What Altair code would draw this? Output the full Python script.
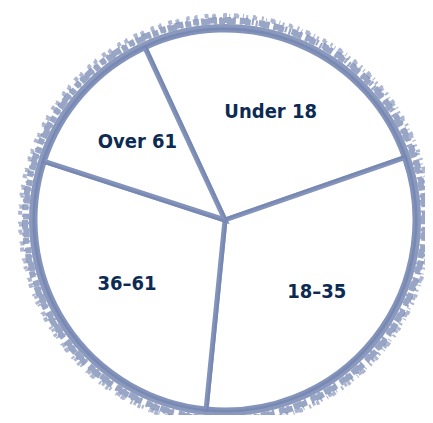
import altair as alt
import pandas as pd
import math

categories = ["Under 18", "18–35", "36–61", "Over 61"]
shares = [26.6, 31.9, 28.4, 13.1]
order_idx = [0, 1, 2, 3]

df = pd.DataFrame({"group": categories, "share": shares, "idx": order_idx})

start = math.radians(-24.9)
theta_scale = alt.Scale(range=[start, start + 2 * math.pi])
cx, cy = 217, 212
ring_color = "#7687b2"

base = alt.Chart(df).encode(
    theta=alt.Theta("share:Q", stack=True, scale=theta_scale),
    order=alt.Order("idx:Q"),
)

slices = base.mark_arc(
    fill="white", stroke=ring_color, strokeWidth=5, strokeOpacity=0.9, radius=190
).encode(x=alt.value(cx), y=alt.value(cy))

one = pd.DataFrame({"a": [0]})

ring = alt.Chart(one).mark_arc(
    theta=0, theta2=2 * math.pi, radius=196, radius2=188, color=ring_color, opacity=0.85
).encode(x=alt.value(cx), y=alt.value(cy))

ring_mid = alt.Chart(one).mark_arc(
    theta=0, theta2=2 * math.pi, radius=200, radius2=199, fill=None,
    stroke=ring_color, strokeWidth=6, strokeDash=[6, 2, 3, 4, 9, 3, 2, 5], opacity=0.75
).encode(x=alt.value(cx), y=alt.value(cy))

ring_outer = alt.Chart(one).mark_arc(
    theta=0, theta2=2 * math.pi, radius=205, radius2=204, fill=None,
    stroke=ring_color, strokeWidth=4, strokeDash=[2, 7, 4, 5, 1, 9, 3, 6], opacity=0.6
).encode(x=alt.value(cx), y=alt.value(cy))

labels = base.mark_text(
    font="DejaVu Sans Condensed, Roboto", fontWeight="bold", fontSize=20, color="#0d2b52", radius=117
).encode(text="group:N", x=alt.value(cx), y=alt.value(cy))

chart = alt.layer(ring_outer, ring_mid, ring, slices, labels).properties(
    width=417, height=407, autosize=alt.AutoSizeParams(type="none"), padding=0
).configure_view(stroke=None)

chart.save("out.html", embed_options={"renderer": "svg", "actions": False})
